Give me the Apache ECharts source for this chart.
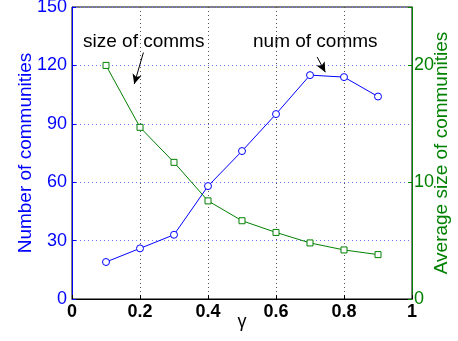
<!DOCTYPE html>
<html><head><meta charset="utf-8">
<script src="https://cdn.jsdelivr.net/npm/echarts@6/dist/echarts.min.js"></script>
<style>html,body{margin:0;padding:0;background:#fff}#c{width:458px;height:341px}</style>
</head><body><div id="c"></div>
<script>
var gammas = [0.1, 0.2, 0.3, 0.4, 0.5, 0.6, 0.7, 0.8, 0.9];
var numComms = [19, 26, 33, 58, 76, 95, 115, 114, 104];
var sizeComms = [20.0, 14.7, 11.7, 8.4, 6.7, 5.7, 4.8, 4.2, 3.8];
var leftTicks = [0, 30, 60, 90, 120, 150];
var rightTicks = [0, 10, 20];
var xTicks = [0, 0.2, 0.4, 0.6, 0.8, 1];

var BLUE = '#0000ff', GREEN = '#008000';
var FONT = 'Liberation Sans';
var chart = echarts.init(document.getElementById('c'), null, {renderer: 'canvas'});
function pairs(xs, ys) { return xs.map(function (x, i) { return [x, ys[i]]; }); }

chart.setOption({
  animation: false,
  grid: {left: 72, right: 46, top: 7, bottom: 42, show: true, borderColor: '#000', borderWidth: 1,
         containLabel: false, outerBoundsMode: 'none'},
  xAxis: {
    type: 'value', min: 0, max: 1, interval: 0.2,
    name: 'γ', nameLocation: 'middle', nameGap: 14, nameMoveOverlap: false,
    nameTextStyle: {color: '#000', fontFamily: FONT, fontSize: 18},
    axisLine: {lineStyle: {color: '#000', width: 1}},
    axisTick: {inside: true, length: 4, lineStyle: {color: '#000'}},
    axisLabel: {color: '#000', fontFamily: FONT, fontSize: 18, fontWeight: 'bold', margin: 4,
      formatter: function (v) { var r = Math.round(v * 10) / 10; return xTicks.indexOf(r) >= 0 ? String(r) : ''; }},
    splitLine: {show: true, lineStyle: {color: '#555', type: [1, 3], width: 1}}
  },
  yAxis: [{
    type: 'value', min: 0, max: 150, interval: 30, position: 'left',
    name: 'Number of communities', nameLocation: 'middle', nameGap: 37, nameRotate: 90, nameMoveOverlap: false,
    nameTextStyle: {color: BLUE, fontFamily: FONT, fontSize: 19},
    axisLine: {show: true, lineStyle: {color: BLUE, width: 1}},
    axisTick: {show: true, inside: true, length: 4, lineStyle: {color: BLUE}},
    axisLabel: {color: BLUE, fontFamily: FONT, fontSize: 18, margin: 5,
      formatter: function (v) { return leftTicks.indexOf(v) >= 0 ? String(v) : ''; }},
    splitLine: {show: true, lineStyle: {color: '#7070ff', type: [1, 3], width: 1}}
  }, {
    type: 'value', min: 0, max: 25, interval: 10, position: 'right',
    name: 'Average size of communities', nameLocation: 'middle', nameGap: 20, nameRotate: 90, nameMoveOverlap: false,
    nameTextStyle: {color: GREEN, fontFamily: FONT, fontSize: 19},
    axisLine: {show: true, lineStyle: {color: GREEN, width: 1}},
    axisTick: {show: true, inside: true, length: 4, lineStyle: {color: GREEN}},
    axisLabel: {color: GREEN, fontFamily: FONT, fontSize: 18, margin: 2,
      formatter: function (v) { return rightTicks.indexOf(v) >= 0 ? String(v) : ''; }},
    splitLine: {show: false}
  }],
  series: [{
    type: 'line', yAxisIndex: 0, data: pairs(gammas, numComms),
    symbol: 'circle', symbolSize: 7, showAllSymbol: true,
    lineStyle: {color: BLUE, width: 1},
    itemStyle: {color: '#fff', borderColor: BLUE, borderWidth: 1},
    markLine: {
      silent: true, symbol: ['none', 'arrow'], symbolSize: [7, 10],
      label: {show: false},
      lineStyle: {color: '#000', type: 'solid', width: 1},
      data: [[{coord: [0.721, 124.3]}, {coord: [0.745, 116.5]}]]
    }
  }, {
    type: 'line', yAxisIndex: 1, data: pairs(gammas, sizeComms),
    symbol: 'rect', symbolSize: 6, showAllSymbol: true,
    lineStyle: {color: GREEN, width: 1},
    itemStyle: {color: '#fff', borderColor: GREEN, borderWidth: 1},
    markLine: {
      silent: true, symbol: ['none', 'arrow'], symbolSize: [7, 10],
      label: {show: false},
      lineStyle: {color: '#000', type: 'solid', width: 1},
      data: [[{coord: [0.21, 21.1]}, {coord: [0.183, 18.4]}]]
    }
  }],
  graphic: [
    {type: 'text', x: 83, y: 42, style: {text: 'size of comms', fill: '#000', font: '19px "Liberation Sans"', verticalAlign: 'middle'}},
    {type: 'text', x: 253, y: 42, style: {text: 'num of comms', fill: '#000', font: '19px "Liberation Sans"', verticalAlign: 'middle'}}
  ]
});
</script></body></html>
